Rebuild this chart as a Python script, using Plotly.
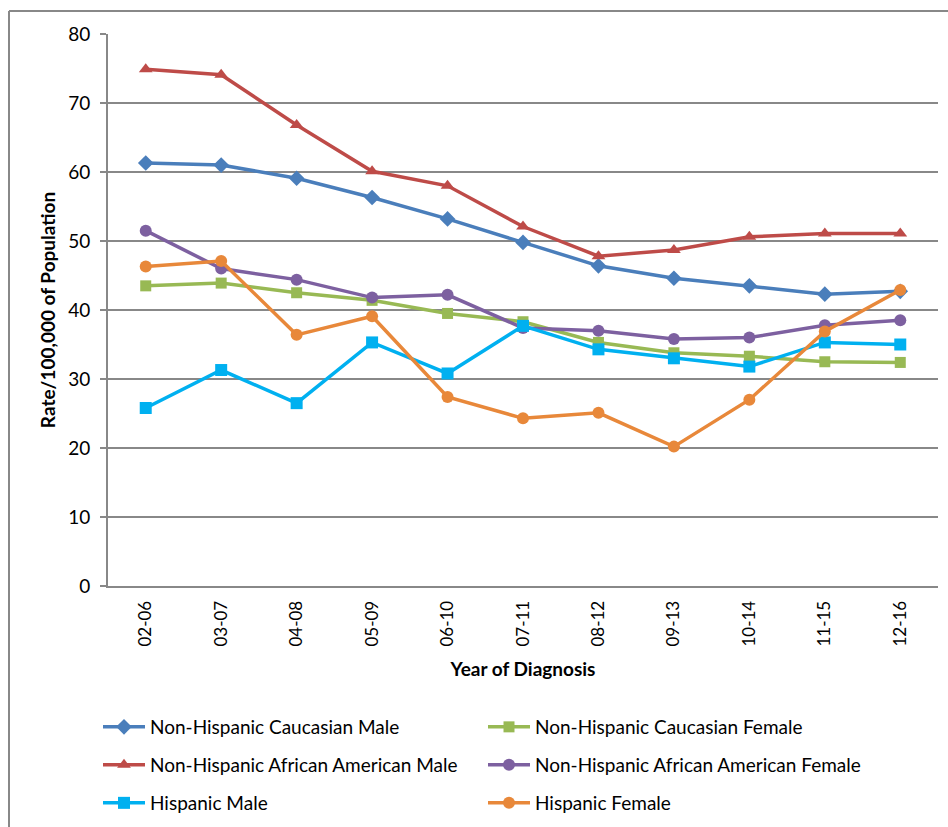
import plotly.graph_objects as go

categories = ["02-06", "03-07", "04-08", "05-09", "06-10", "07-11", "08-12", "09-13", "10-14", "11-15", "12-16"]

nh_cauc_male = [61.3, 61.0, 59.1, 56.3, 53.2, 49.8, 46.4, 44.6, 43.5, 42.3, 42.7]
nh_cauc_female = [43.5, 43.9, 42.5, 41.4, 39.5, 38.3, 35.3, 33.8, 33.3, 32.5, 32.4]
nh_aa_male = [74.9, 74.1, 66.8, 60.1, 58.0, 52.1, 47.8, 48.7, 50.6, 51.1, 51.1]
nh_aa_female = [51.5, 46.0, 44.4, 41.8, 42.2, 37.4, 37.0, 35.8, 36.0, 37.8, 38.5]
hisp_male = [25.8, 31.3, 26.5, 35.3, 30.8, 37.7, 34.3, 33.0, 31.8, 35.3, 35.0]
hisp_female = [46.3, 47.1, 36.4, 39.1, 27.4, 24.3, 25.1, 20.2, 27.0, 36.9, 42.9]

y_ticks = [0, 10, 20, 30, 40, 50, 60, 70, 80]

series = [
    ("Non-Hispanic Caucasian Male", nh_cauc_male, "#4A7EBB", "diamond", 12, "legend"),
    ("Non-Hispanic Caucasian Female", nh_cauc_female, "#98B954", "square", 11, "legend"),
    ("Non-Hispanic African American Male", nh_aa_male, "#BE4B48", "triangle-up", 12, "legend2"),
    ("Non-Hispanic African American Female", nh_aa_female, "#7D60A0", "circle", 12, "legend2"),
    ("Hispanic Male", hisp_male, "#00B0F0", "square", 12, "legend3"),
    ("Hispanic Female", hisp_female, "#E8883A", "circle", 12, "legend3"),
]

fig = go.Figure()
for name, vals, color, sym, size, lg in series:
    fig.add_trace(go.Scatter(
        x=categories, y=vals, name=name, mode="lines+markers",
        line=dict(color=color, width=3.5),
        marker=dict(symbol=sym, size=size, color=color),
        legend=lg,
    ))

W, H = 948, 827
L, R, T, B = 108, 10, 34, 241
pw = W - L - R
ph = H - T - B

def px_x(px):
    return (px - L) / pw

def px_y(py):
    return (H - B - py) / ph

FONT = "Lato, sans-serif"

legend_common = dict(
    orientation="h", xanchor="left", yanchor="middle",
    xref="container", yref="container",
    font=dict(family=FONT, size=19, color="#000"),
    entrywidth=328, entrywidthmode="pixels",
    bgcolor="rgba(0,0,0,0)", itemwidth=42,
)

fig.update_layout(
    width=W, height=H,
    margin=dict(l=L, r=R, t=T, b=B, autoexpand=False),
    paper_bgcolor="white", plot_bgcolor="white",
    font=dict(family=FONT, color="#000"),
    showlegend=True,
    legend=dict(x=98 / W, y=1 - 727 / H, **legend_common),
    legend2=dict(x=98 / W, y=1 - 765 / H, **legend_common),
    legend3=dict(x=98 / W, y=1 - 803 / H, **legend_common),
    xaxis=dict(
        type="category", tickangle=-90, automargin=False,
        tickfont=dict(family=FONT, size=17),
        showline=True, linecolor="#888", linewidth=2,
        showgrid=False, ticks="",
        ticklabelstandoff=6,
        title=dict(text="<b>Year of Diagnosis</b>", font=dict(family=FONT, size=19), standoff=17),
        range=[-0.5, len(categories) - 0.5],
    ),
    yaxis=dict(
        range=[0, 80], tickvals=y_ticks, automargin=False,
        tickfont=dict(family=FONT, size=19),
        showgrid=True, gridcolor="#888", gridwidth=2,
        showline=True, linecolor="#888", linewidth=2,
        ticks="outside", ticklen=6, tickcolor="#888", tickwidth=2,
        ticklabelstandoff=6,
        zeroline=False,
        title=dict(text="<b>Rate/100,000 of Population</b>", font=dict(family=FONT, size=19), standoff=8),
    ),
)

# outer chart frame (left and top edges visible)
fig.add_shape(type="line", xref="paper", yref="paper",
              x0=px_x(9), x1=px_x(9), y0=px_y(11), y1=px_y(830),
              line=dict(color="#888", width=2))
fig.add_shape(type="line", xref="paper", yref="paper",
              x0=px_x(9), x1=px_x(952), y0=px_y(11), y1=px_y(11),
              line=dict(color="#888", width=2))

fig.write_html("out.html", config={"displayModeBar": False},
               post_script="document.body.style.margin='0';")
